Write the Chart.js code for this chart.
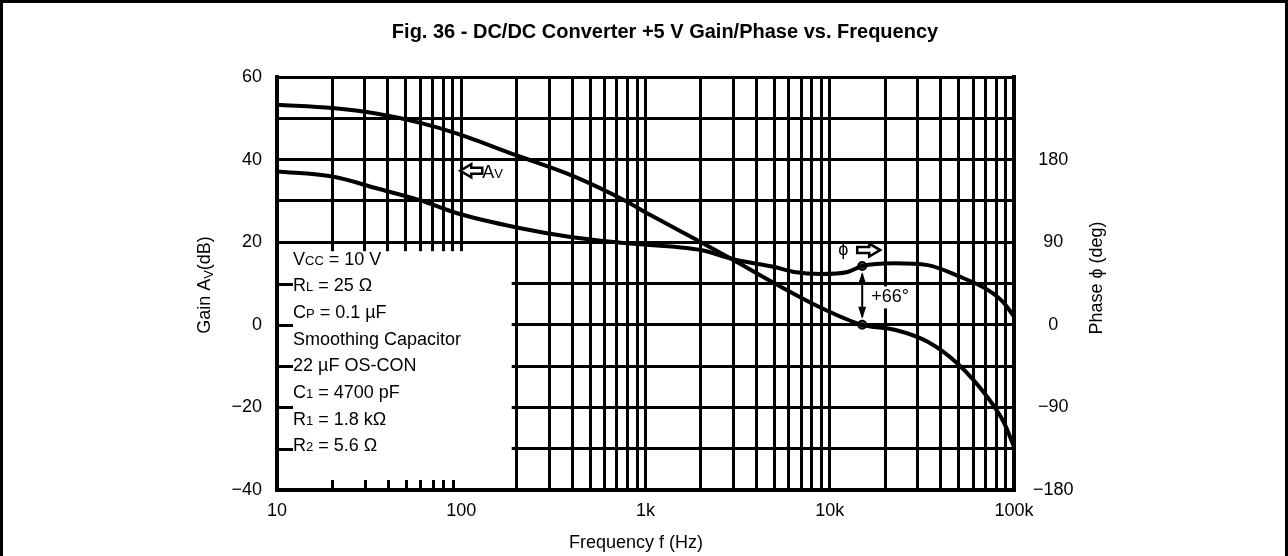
<!DOCTYPE html>
<html>
<head>
<meta charset="utf-8">
<script src="https://cdn.jsdelivr.net/npm/chart.js@4.4.1/dist/chart.umd.min.js"></script>
<style>
  body { margin: 0; background: #fff; }
  canvas { display: block; }
</style>
</head>
<body>
<canvas id="bodeChart" width="1288" height="556"></canvas>
<script>
// gain curve (Hz / dB)
const gainFreq = [10, 20, 35, 60, 95, 200, 400, 770, 1070, 2000, 3000, 5000, 9000, 15000, 22500, 34000, 50000, 72000, 88000, 100000];
const gainDb = [53.3, 52.5, 51.1, 48.9, 46.3, 41.0, 36.1, 30.1, 26.5, 20.0, 15.7, 10.1, 4.1, 0.0, -1.2, -4.1, -9.6, -17.6, -23.6, -29.5];

// phase curve (Hz / deg)
const phaseFreq = [10, 20, 35, 60, 95, 200, 400, 770, 2000, 3000, 5000, 6400, 9000, 12500, 15000, 22500, 34000, 50000, 72000, 88000, 100000];
const phaseDeg = [167, 161.5, 148.5, 135.5, 121.5, 106, 95.4, 89, 81.5, 71.5, 63, 57.6, 55.4, 57.6, 64, 67, 65, 53, 38, 24, 9];

// phase margin marker
const marginFreq = 15000;
const marginGain = 0;
const marginPhase = 64;
const marginLabel = '+66\u00b0';

// axis labels
const freqTickValues = [10, 100, 1000, 10000, 100000];
const freqTickLabels = ['10', '100', '1k', '10k', '100k'];
const gainTicks = [60, 40, 20, 0, -20, -40];
const phaseTicks = [180, 90, 0, -90, -180];

// test conditions printed in the blank box (text, subscript?)
const conditions = [
  [['V', 0], ['CC', 1], [' = 10 V', 0]],
  [['R', 0], ['L', 1], [' = 25 \u03a9', 0]],
  [['C', 0], ['P', 1], [' = 0.1 \u00b5F', 0]],
  [['Smoothing Capacitor', 0]],
  [['22 \u00b5F OS-CON', 0]],
  [['C', 0], ['1', 1], [' = 4700 pF', 0]],
  [['R', 0], ['1', 1], [' = 1.8 k\u03a9', 0]],
  [['R', 0], ['2', 1], [' = 5.6 \u03a9', 0]]
];

const FONT = '"Liberation Sans", Arial, Helvetica, sans-serif';

// 1-9 per decade for the log grid
const gridFreqs = [];
for (let k = 1; k <= 4; k++) {
  for (let m = 1; m <= 9; m++) gridFreqs.push(m * Math.pow(10, k));
}
gridFreqs.push(100000);

const fmtNum = v => (v < 0 ? '\u2212' + Math.abs(v) : String(v));

function drawParts(ctx, parts, x, y, size, subDrop) {
  let cx = x;
  parts.forEach(([t, s]) => {
    ctx.font = (s ? Math.round(size * 0.72) : size) + 'px ' + FONT;
    ctx.fillText(t, cx, y + (s ? subDrop : 0));
    cx += ctx.measureText(t).width;
  });
  return cx;
}

function partsWidth(ctx, parts, size) {
  let w = 0;
  parts.forEach(([t, s]) => {
    ctx.font = (s ? Math.round(size * 0.72) : size) + 'px ' + FONT;
    w += ctx.measureText(t).width;
  });
  return w;
}

// outlined block arrow, dir 1 = right, -1 = left
function hollowArrow(ctx, x0, yc, len, dir) {
  const h = 6.5, s = 3, head = 11;
  const pts = [[0, -s], [len - head, -s], [len - head, -h], [len, 0], [len - head, h], [len - head, s], [0, s]];
  ctx.beginPath();
  pts.forEach(([px, py], i) => {
    const X = dir > 0 ? x0 + px : x0 + len - px;
    if (i === 0) ctx.moveTo(X, yc + py); else ctx.lineTo(X, yc + py);
  });
  ctx.closePath();
  ctx.fillStyle = '#fff';
  ctx.fill();
  ctx.lineWidth = 2.5;
  ctx.lineJoin = 'miter';
  ctx.strokeStyle = '#000';
  ctx.stroke();
}

const boxPlugin = {
  id: 'conditionBox',
  beforeDatasetsDraw(chart) {
    const { ctx, chartArea: a, scales: { x, y } } = chart;
    const top = y.getPixelForValue(20) + 9;
    const right = x.getPixelForValue(200) - 5;
    ctx.save();
    ctx.fillStyle = '#fff';
    ctx.fillRect(a.left + 2, top, right - a.left - 2, a.bottom - 2 - top);
    ctx.strokeStyle = '#000';
    ctx.lineWidth = 3;
    ctx.beginPath();
    [10, 0, -10, -20, -30].forEach(v => {
      const py = Math.round(y.getPixelForValue(v)) + 0.5;
      ctx.moveTo(a.left, py);
      ctx.lineTo(a.left + 16, py);
    });
    [20, 30, 40, 50, 60, 70, 80, 90].forEach(v => {
      const px = Math.round(x.getPixelForValue(v)) + 0.5;
      ctx.moveTo(px, a.bottom);
      ctx.lineTo(px, a.bottom - 10);
    });
    ctx.stroke();
    ctx.restore();
  },
  afterDraw(chart) {
    const { ctx, chartArea: a, scales: { x, y, y2 } } = chart;
    ctx.save();
    ctx.fillStyle = '#000';

    // frame
    ctx.strokeStyle = '#000';
    ctx.lineWidth = 3;
    ctx.beginPath();
    ctx.moveTo(1.5, 556);
    ctx.lineTo(1.5, 1.5);
    ctx.lineTo(1286.5, 1.5);
    ctx.lineTo(1286.5, 556);
    ctx.stroke();

    // title
    ctx.font = 'bold 20px ' + FONT;
    ctx.textAlign = 'center';
    ctx.textBaseline = 'middle';
    ctx.fillText('Fig. 36 - DC/DC Converter +5 V Gain/Phase vs. Frequency', 665, 32);

    // x title
    ctx.font = '18px ' + FONT;
    ctx.fillText('Frequency f (Hz)', 636, 543);

    // left y title with subscript
    ctx.textAlign = 'left';
    ctx.textBaseline = 'alphabetic';
    const leftParts = [['Gain A', 0], ['V', 1], ['(dB)', 0]];
    ctx.save();
    ctx.translate(203, 285);
    ctx.rotate(-Math.PI / 2);
    const lw = partsWidth(ctx, leftParts, 18);
    drawParts(ctx, leftParts, -lw / 2, 6.5, 18, 3);
    ctx.restore();

    // right y title
    ctx.save();
    ctx.translate(1097, 278);
    ctx.rotate(-Math.PI / 2);
    ctx.font = '18px ' + FONT;
    ctx.textAlign = 'center';
    ctx.textBaseline = 'middle';
    ctx.fillText('Phase \u03d5 (deg)', 0, 0);
    ctx.restore();

    // conditions text
    ctx.textAlign = 'left';
    ctx.textBaseline = 'alphabetic';
    conditions.forEach((parts, i) => {
      drawParts(ctx, parts, a.left + 16, 264.5 + i * 26.7, 18, 0);
    });

    // curve labels
    const avY = y.getPixelForValue(37.3);
    const avX = x.getPixelForValue(100) - 1;
    hollowArrow(ctx, avX, avY, 22, -1);
    ctx.fillStyle = '#000';
    drawParts(ctx, [['A', 0], ['V', 1]], avX + 22, avY + 7, 18, 0);

    const phX = x.getPixelForValue(marginFreq);
    const phY = y2.getPixelForValue(marginPhase) - 16;
    ctx.font = '18px ' + FONT;
    ctx.textAlign = 'center';
    ctx.textBaseline = 'middle';
    ctx.fillText('\u03d5', phX - 19, phY);
    hollowArrow(ctx, phX - 5, phY, 23, 1);

    // phase margin double arrow
    const yTop = y2.getPixelForValue(marginPhase);
    const yBot = y.getPixelForValue(marginGain);
    ctx.strokeStyle = '#000';
    ctx.fillStyle = '#000';
    ctx.lineWidth = 2;
    ctx.beginPath();
    ctx.moveTo(phX, yTop + 8);
    ctx.lineTo(phX, yBot - 8);
    ctx.stroke();
    [[yTop + 6, 1], [yBot - 6, -1]].forEach(([tip, d]) => {
      ctx.beginPath();
      ctx.moveTo(phX, tip);
      ctx.lineTo(phX - 4, tip + d * 12);
      ctx.lineTo(phX + 4, tip + d * 12);
      ctx.closePath();
      ctx.fill();
    });

    ctx.font = '18px ' + FONT;
    ctx.textAlign = 'left';
    const tw = ctx.measureText(marginLabel).width;
    const ty = (yTop + yBot) / 2 + 2;
    ctx.fillStyle = '#fff';
    ctx.fillRect(phX + 8, ty - 11, tw + 2, 22);
    ctx.fillStyle = '#000';
    ctx.fillText(marginLabel, phX + 9, ty);

    ctx.restore();
  }
};

const ctx = document.getElementById('bodeChart').getContext('2d');
const tickFont = { family: FONT, size: 18 };

new Chart(ctx, {
  type: 'line',
  data: {
    datasets: [
      {
        label: 'Gain',
        data: gainFreq.map((f, i) => ({ x: f, y: gainDb[i] })),
        yAxisID: 'y',
        borderColor: '#000',
        borderWidth: 4,
        pointRadius: 0,
        cubicInterpolationMode: 'monotone'
      },
      {
        label: 'Phase',
        data: phaseFreq.map((f, i) => ({ x: f, y: phaseDeg[i] })),
        yAxisID: 'y2',
        borderColor: '#000',
        borderWidth: 4,
        pointRadius: 0,
        cubicInterpolationMode: 'monotone'
      },
      {
        label: 'Gain crossover',
        data: [{ x: marginFreq, y: marginGain }],
        yAxisID: 'y',
        showLine: false,
        pointRadius: 4,
        pointBorderWidth: 2,
        pointBorderColor: '#000',
        pointBackgroundColor: '#555'
      },
      {
        label: 'Phase at crossover',
        data: [{ x: marginFreq, y: marginPhase }],
        yAxisID: 'y2',
        showLine: false,
        pointRadius: 4,
        pointBorderWidth: 2,
        pointBorderColor: '#000',
        pointBackgroundColor: '#555'
      }
    ]
  },
  options: {
    responsive: false,
    animation: false,
    layout: { padding: { top: 77, left: 0, right: 0, bottom: 0 } },
    plugins: {
      legend: { display: false },
      tooltip: { enabled: false },
      title: { display: false }
    },
    scales: {
      x: {
        type: 'logarithmic',
        min: 10,
        max: 100000,
        afterBuildTicks: s => { s.ticks = gridFreqs.map(v => ({ value: v })); },
        afterFit: s => { s.height = 66; },
        grid: { color: '#000', lineWidth: 3, drawTicks: false },
        border: { color: '#000', width: 4 },
        ticks: {
          autoSkip: false,
          maxRotation: 0,
          padding: 10,
          color: '#000',
          font: tickFont,
          callback: v => {
            const i = freqTickValues.indexOf(v);
            return i >= 0 ? freqTickLabels[i] : '';
          }
        }
      },
      y: {
        position: 'left',
        min: -40,
        max: 60,
        afterFit: s => { s.width = 277; },
        grid: { color: '#000', lineWidth: 3, drawTicks: false },
        border: { color: '#000', width: 4 },
        ticks: {
          stepSize: 10,
          padding: 15,
          color: '#000',
          font: tickFont,
          callback: v => (gainTicks.includes(v) ? fmtNum(v) : '')
        }
      },
      y2: {
        position: 'right',
        min: -180,
        max: 270,
        afterFit: s => { s.width = 274; },
        grid: { display: false, drawTicks: false },
        border: { display: true, color: '#000', width: 4 },
        ticks: {
          stepSize: 90,
          padding: 19,
          crossAlign: 'center',
          color: '#000',
          font: tickFont,
          callback: v => (phaseTicks.includes(v) ? fmtNum(v) : '')
        }
      }
    }
  },
  plugins: [boxPlugin]
});
</script>
</body>
</html>
